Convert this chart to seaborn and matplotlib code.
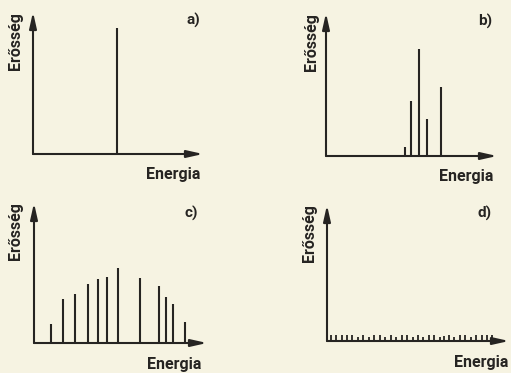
import matplotlib
matplotlib.use("Agg")
import matplotlib.pyplot as plt
import seaborn as sns

# line positions (energy) and heights (intensity), arbitrary units 0-100
a_energy = [49.4]
a_height = [89.0]

b_energy = [46.4, 49.9, 54.6, 59.1, 67.1]
b_height = [6.1, 38.3, 74.8, 25.9, 48.0]

c_energy = [9.8, 16.8, 23.7, 31.2, 37.0, 42.0, 48.4, 61.1, 72.3, 76.1, 80.2, 87.5]
c_height = [13.4, 31.2, 35.3, 42.4, 45.5, 46.9, 53.9, 46.4, 40.5, 32.9, 28.1, 15.0]

d_energy = [2, 5, 8, 11, 14, 17, 20, 23, 26, 29, 32, 35, 38, 41, 44, 47, 50,
            53, 56, 59, 62, 64.5, 67, 70, 73, 76, 79, 82, 85, 88, 90.5]
d_height = [4.6, 4.6, 4.6, 4.6, 4.6, 2.6, 4.6, 2.6, 4.6, 4.6, 2.6, 4.6, 2.6,
            4.6, 4.6, 2.6, 4.6, 2.6, 4.6, 4.6, 2.6, 3.6, 4.6, 3.0, 4.6, 4.6,
            2.6, 4.6, 4.6, 4.6, 4.6]

panel_labels = ["a)", "b)", "c)", "d)"]
x_label = "Energia"
y_label = "Erősség"

INK = "#262422"
PAPER = "#f6f3e2"
W, H = 511, 373

sns.set_theme(style="white", rc={"figure.facecolor": PAPER, "axes.facecolor": PAPER})
plt.rcParams["font.family"] = ["Roboto", "DejaVu Sans"]


def fx(x):
    return x / W


def fy(y):
    return 1 - y / H


fig = plt.figure(figsize=(W / 100, H / 100), dpi=100)

# (origin x, origin y, x arrow tip, y arrow tip) in pixels
frames = [(33, 154, 203, 12), (326, 156, 497, 13), (34, 343, 207, 203), (327, 341, 509, 205)]
series = [(a_energy, a_height), (b_energy, b_height), (c_energy, c_height), (d_energy, d_height)]
label_pos = [(193, 20), (485, 21), (191, 213), (485, 213)]
xlabel_pos = [(173, 179), (466, 180.5), (174, 368.5), (481, 367.5)]
ylabel_pos = [(16, 41), (311, 42), (15, 231), (310, 233)]

for i, ((ox, oy, xt, yt), (en, hi)) in enumerate(zip(frames, series)):
    ax = fig.add_axes([fx(ox), fy(oy), (xt - ox) / W, (oy - yt) / H])
    ax.set_xlim(0, 100)
    ax.set_ylim(0, 100)
    ax.axis("off")
    ax.vlines(en, 0, hi, color=INK, lw=1.5 if i < 3 else 1.3)
    arrow = dict(arrowstyle="-|>,head_length=0.8,head_width=0.18", color=INK, lw=1.5,
                 shrinkA=0, shrinkB=0, mutation_scale=12)
    ax.annotate("", xy=(1, 0), xytext=(0, 0), xycoords="axes fraction", arrowprops=arrow)
    ax.annotate("", xy=(0, 1), xytext=(0, 0), xycoords="axes fraction", arrowprops=arrow)

    fig.text(fx(label_pos[i][0]), fy(label_pos[i][1]), panel_labels[i], ha="center", va="center",
             fontsize=11, fontweight="bold", color=INK)
    fig.text(fx(xlabel_pos[i][0]), fy(xlabel_pos[i][1]), x_label, ha="center", va="baseline",
             fontsize=11.5, fontweight="bold", color=INK)
    fig.text(fx(ylabel_pos[i][0]), fy(ylabel_pos[i][1]), y_label, ha="center", va="center",
             rotation=90, fontsize=11.5, fontweight="bold", color=INK)

fig.savefig("out.png", dpi=100, facecolor=PAPER)
